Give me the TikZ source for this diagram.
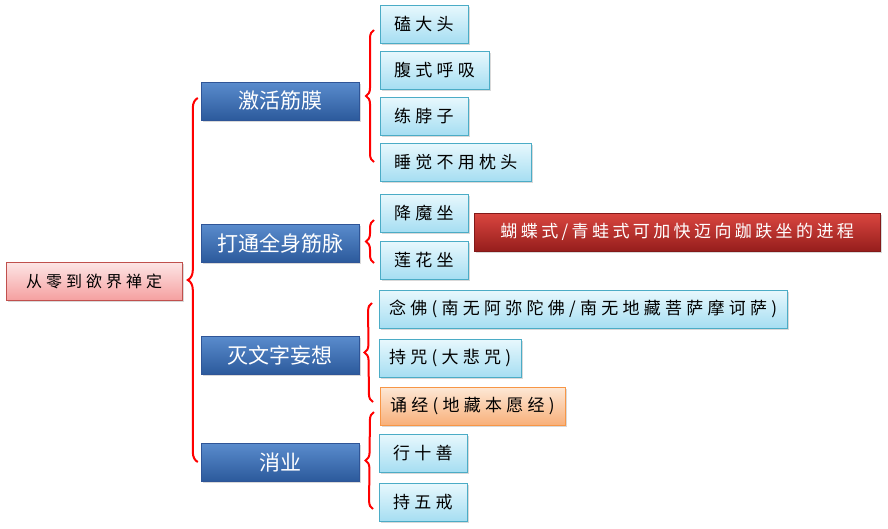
\documentclass[tikz,border=0pt]{standalone}
\usepackage{fontspec}
\setmainfont{Noto Sans CJK SC}
\newfontfamily\spacedcjk[LetterSpace=25]{Noto Sans CJK SC}
\newfontfamily\notecjk[LetterSpace=20]{Noto Sans CJK SC}
\usetikzlibrary{shadows,calc,decorations.pathreplacing}
\definecolor{topicTop}{RGB}{90,140,205}
\definecolor{topicBot}{RGB}{44,90,156}
\definecolor{topicLine}{RGB}{47,85,151}
\definecolor{leafTop}{RGB}{232,248,253}
\definecolor{leafBot}{RGB}{166,222,242}
\definecolor{leafLine}{RGB}{75,172,198}
\definecolor{rootTop}{RGB}{253,230,230}
\definecolor{rootBot}{RGB}{245,160,160}
\definecolor{rootLine}{RGB}{192,80,77}
\definecolor{noteTop}{RGB}{218,70,64}
\definecolor{noteBot}{RGB}{150,30,28}
\definecolor{noteLine}{RGB}{130,25,25}
\definecolor{sutraTop}{RGB}{253,232,214}
\definecolor{sutraBot}{RGB}{248,176,122}
\definecolor{sutraLine}{RGB}{247,150,70}
\tikzset{
  basic/.style  = {draw, rectangle, minimum height=38pt, inner xsep=14pt,
                   drop shadow={opacity=0.3, shadow xshift=2pt, shadow yshift=-2pt}},
  root/.style   = {basic, draw=rootLine, top color=rootTop, bottom color=rootBot,
                   minimum width=176pt, font=\spacedcjk\fontsize{16}{16}\selectfont},
  topic/.style  = {basic, draw=topicLine, top color=topicTop, bottom color=topicBot,
                   minimum width=158pt, text=white, font=\fontsize{21}{21}\selectfont},
  leaf/.style   = {basic, anchor=west, draw=leafLine, top color=leafTop, bottom color=leafBot,
                   font=\spacedcjk\fontsize{17}{17}\selectfont},
  long leaf/.style = {leaf, inner xsep=10pt},
  sutra/.style  = {long leaf, draw=sutraLine, top color=sutraTop, bottom color=sutraBot},
  note/.style   = {basic, anchor=west, draw=noteLine, top color=noteTop, bottom color=noteBot,
                   minimum width=406pt, text=white, font=\notecjk\fontsize{17}{17}\selectfont},
  bracket/.style = {draw=red, line width=2pt, decorate,
                   decoration={brace, amplitude=#1}}
}

\begin{document}
\begin{tikzpicture}[x=1pt,y=-1pt]
\useasboundingbox (0,0) rectangle (888,528);
% root and topics
\node[root] (root) at (94,281) {从零到欲界禅定};
\node[topic] (l1) at (280,101) {激活筋膜};
\node[topic] (l2) at (280,243) {打通全身筋脉};
\node[topic] (l3) at (280,355) {灭文字妄想};
\node[topic] (l4) at (280,462) {消业};
% leaves
\node[leaf] (c1) at (380,24) {磕大头};
\node[leaf] (c2) at (380,70) {腹式呼吸};
\node[leaf] (c3) at (380,116) {练脖子};
\node[leaf] (c4) at (380,162) {睡觉不用枕头};
\node[leaf] (d1) at (380,213) {降魔坐};
\node[leaf] (d2) at (380,260) {莲花坐};
\node[note] (n1) at (474,232) {蝴蝶式/青蛙式可加快迈向跏趺坐的进程};
\node[long leaf] (e1) at (379,309) {念佛(南无阿弥陀佛/南无地藏菩萨摩诃萨)};
\node[long leaf] (e2) at (379,358) {持咒(大悲咒)};
\node[sutra] (e3) at (380,406) {诵经(地藏本愿经)};
\node[leaf] (f1) at (379,453) {行十善};
\node[leaf] (f2) at (379,502) {持五戒};
% brackets
\draw[bracket=10pt] ($(l4.west)+(-3,0)$) -- ($(l1.west)+(-3,-3)$);
\draw[bracket=8pt] ($(c4.west)+(-6,0)$) -- ($(c1.west)+(-6,6)$);
\draw[bracket=8pt] ($(d2.west)+(-6,3)$) -- ($(d1.west)+(-6,7)$);
\draw[bracket=8pt] ($(e3.west)+(-7,-4)$) -- ($(e1.west)+(-7,-6)$);
\draw[bracket=8pt] ($(f2.west)+(-6,7)$) -- ($(e3.west)+(-6,6)$);
\end{tikzpicture}
\end{document}
